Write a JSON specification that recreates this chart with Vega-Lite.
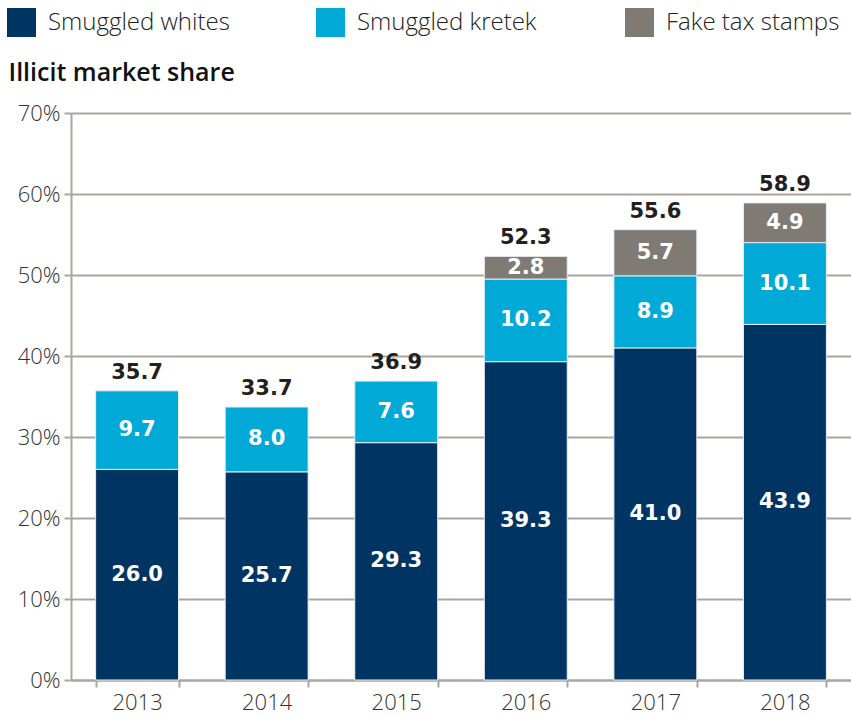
{
  "$schema": "https://vega.github.io/schema/vega-lite/v6.json",
  "width": 780,
  "height": 567,
  "autosize": {"type": "none"},
  "padding": {"left": 71, "top": 113, "right": 0, "bottom": 37},
  "background": "white",
  "config": {
    "view": {"stroke": null},
    "font": "Open Sans"
  },
  "data": {
    "values": [
      {"year": "2013", "series": "Smuggled whites", "value": 26.0},
      {"year": "2014", "series": "Smuggled whites", "value": 25.7},
      {"year": "2015", "series": "Smuggled whites", "value": 29.3},
      {"year": "2016", "series": "Smuggled whites", "value": 39.3},
      {"year": "2017", "series": "Smuggled whites", "value": 41.0},
      {"year": "2018", "series": "Smuggled whites", "value": 43.9},
      {"year": "2013", "series": "Smuggled kretek", "value": 9.7},
      {"year": "2014", "series": "Smuggled kretek", "value": 8.0},
      {"year": "2015", "series": "Smuggled kretek", "value": 7.6},
      {"year": "2016", "series": "Smuggled kretek", "value": 10.2},
      {"year": "2017", "series": "Smuggled kretek", "value": 8.9},
      {"year": "2018", "series": "Smuggled kretek", "value": 10.1},
      {"year": "2016", "series": "Fake tax stamps", "value": 2.8},
      {"year": "2017", "series": "Fake tax stamps", "value": 5.7},
      {"year": "2018", "series": "Fake tax stamps", "value": 4.9}
    ]
  },
  "transform": [
    {"stack": "value", "groupby": ["year"], "sort": [{"field": "series", "order": "descending"}], "as": ["y0", "y1"]},
    {"calculate": "(datum.y0 + datum.y1) / 2", "as": "mid"}
  ],
  "encoding": {
    "x": {
      "field": "year",
      "type": "ordinal",
      "title": null,
      "scale": {"paddingInner": 0.36, "paddingOuter": 0.19},
      "axis": {
        "labelAngle": 0,
        "labelFont": "Open Sans",
        "labelFontWeight": 300,
        "labelFontSize": 22,
        "labelColor": "#333333",
        "labelPadding": 5,
        "tickBand": "extent",
        "tickSize": 7,
        "tickColor": "#aaa69f",
        "tickWidth": 2,
        "domainColor": "#aaa69f",
        "domainWidth": 2,
        "grid": false
      }
    }
  },
  "layer": [
    {
      "mark": {"type": "bar", "stroke": "#e6eef3", "strokeWidth": 1},
      "encoding": {
        "y": {
          "field": "y0",
          "type": "quantitative",
          "scale": {"domain": [0, 70], "nice": false},
          "title": "Illicit market share",
          "axis": {
            "values": [0, 10, 20, 30, 40, 50, 60, 70],
            "labelExpr": "datum.value + '%'",
            "labelFont": "Open Sans",
            "labelFontWeight": 300,
            "labelFontSize": 22,
            "labelColor": "#333333",
            "labelPadding": 4,
            "tickSize": 7,
            "tickColor": "#aaa69f",
            "tickWidth": 2,
            "domainColor": "#aaa69f",
            "domainWidth": 2,
            "grid": true,
            "gridColor": "#aaa69f",
            "gridWidth": 2,
            "titleAngle": 0,
            "titleAlign": "left",
            "titleBaseline": "alphabetic",
            "titleX": -63,
            "titleY": -33,
            "titleFont": "Open Sans",
            "titleFontSize": 25,
            "titleFontWeight": 600,
            "titleColor": "#111111"
          }
        },
        "y2": {"field": "y1"},
        "color": {
          "field": "series",
          "type": "nominal",
          "scale": {
            "domain": ["Smuggled whites", "Smuggled kretek", "Fake tax stamps"],
            "range": ["#003462", "#00a9d6", "#7f7b74"]
          },
          "legend": {
            "title": null,
            "orient": "none",
            "direction": "horizontal",
            "legendX": -64,
            "legendY": -105,
            "symbolType": "square",
            "symbolSize": 841,
            "symbolStrokeWidth": 0,
            "symbolOpacity": 1,
            "labelFont": "Open Sans",
            "labelFontWeight": 300,
            "labelFontSize": 24,
            "labelColor": "#222222",
            "labelOffset": 12,
            "labelLimit": 400,
            "columns": 3,
            "gridAlign": "all",
            "columnPadding": 86
          }
        }
      }
    },
    {
      "mark": {"type": "text", "color": "white", "font": "DejaVu Sans", "fontWeight": "bold", "fontSize": 21, "baseline": "middle"},
      "encoding": {
        "y": {"field": "mid", "type": "quantitative"},
        "text": {"field": "value", "type": "quantitative", "format": ".1f"}
      }
    },
    {
      "transform": [{"aggregate": [{"op": "sum", "field": "value", "as": "total"}], "groupby": ["year"]}],
      "mark": {"type": "text", "color": "#231f20", "font": "DejaVu Sans", "fontWeight": "bold", "fontSize": 21, "baseline": "alphabetic", "dy": -12},
      "encoding": {
        "y": {"field": "total", "type": "quantitative"},
        "text": {"field": "total", "type": "quantitative", "format": ".1f"}
      }
    }
  ]
}
